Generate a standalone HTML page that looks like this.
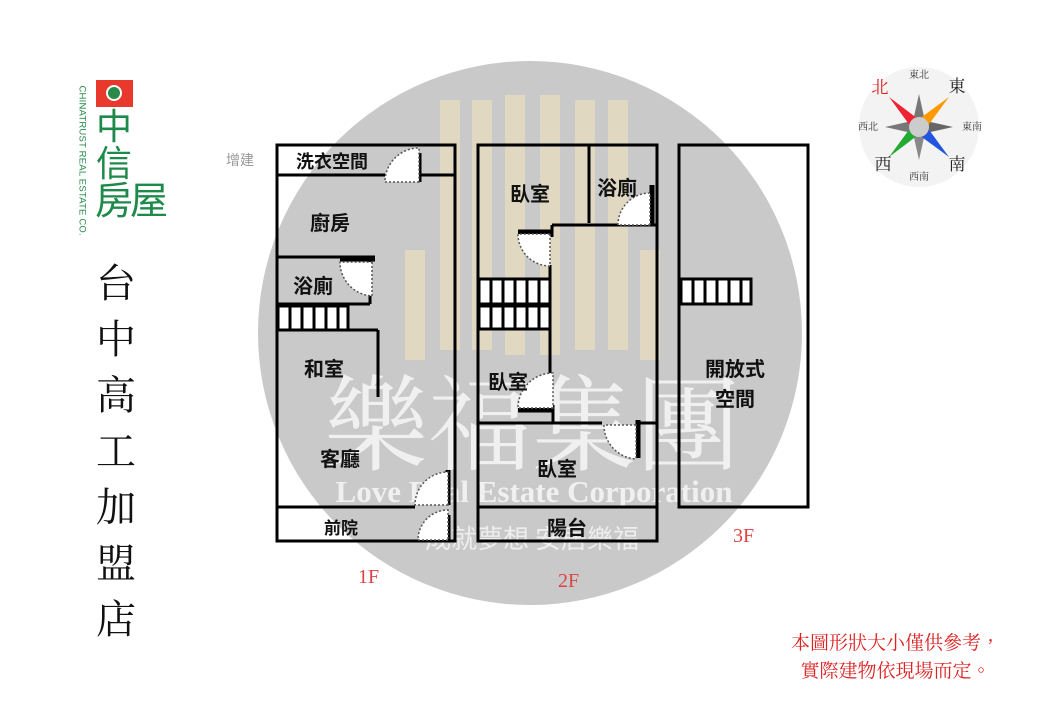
<!DOCTYPE html>
<html><head><meta charset="utf-8"><style>
body{margin:0;width:1040px;height:720px;background:#fff;overflow:hidden;position:relative;font-family:"Liberation Sans","Noto Sans CJK TC",sans-serif}
.t{position:absolute;font-weight:bold;font-size:20px;color:#111;white-space:nowrap}
.v{position:absolute;left:94px;top:256px;font-family:"Liberation Serif","Noto Serif CJK SC",serif;font-size:40px;line-height:56px;width:44px;text-align:center;color:#111}
</style></head><body>
<svg width="1040" height="720" style="position:absolute;left:0;top:0">
<circle cx="530" cy="333" r="272" fill="#c9c9c9"/>
<g fill="#e8dcc0" opacity="0.8">
<rect x="440" y="100" width="20" height="250"/><rect x="472" y="100" width="20" height="250"/>
<rect x="505" y="95" width="20" height="260"/><rect x="540" y="95" width="20" height="260"/>
<rect x="575" y="100" width="20" height="250"/><rect x="608" y="100" width="20" height="250"/>
<rect x="405" y="250" width="20" height="110"/><rect x="640" y="250" width="20" height="110"/>
</g>
<text x="532" y="462" text-anchor="middle" font-family="Noto Serif CJK SC,serif" font-size="104" fill="#f0f0f0">樂福集團</text>
<text x="534" y="502" text-anchor="middle" font-family="Liberation Serif,serif" font-weight="bold" font-size="31" fill="#f0f0f0">Love Real Estate Corporation</text>
<text x="532" y="548" text-anchor="middle" font-family="Noto Sans CJK TC,sans-serif" font-size="26" fill="#eee">成就夢想 安居樂福</text>
<g stroke="#000" stroke-width="3" fill="none">
<rect x="277" y="145" width="178" height="396"/>
<line x1="277" y1="175" x2="385" y2="175"/><line x1="418" y1="175" x2="455" y2="175"/>
<line x1="277" y1="257" x2="375" y2="257"/><line x1="370" y1="257" x2="370" y2="263"/>
<line x1="370" y1="290" x2="370" y2="304"/><line x1="277" y1="304" x2="370" y2="304"/>
<line x1="277" y1="330" x2="378" y2="330"/><line x1="378" y1="330" x2="378" y2="397"/>
<line x1="277" y1="507" x2="415" y2="507"/>
<rect x="478" y="145" width="179" height="396"/>
<line x1="589" y1="145" x2="589" y2="223"/><line x1="552" y1="225" x2="657" y2="225"/>
<line x1="552" y1="225" x2="552" y2="237"/><line x1="550" y1="265" x2="550" y2="380"/>
<line x1="553" y1="405" x2="553" y2="423"/>
<line x1="478" y1="423" x2="602" y2="423"/><line x1="638" y1="423" x2="657" y2="423"/>
<line x1="478" y1="507" x2="657" y2="507"/>
<rect x="679" y="145" width="129" height="362"/>
</g>
<g stroke="#000" stroke-width="5">
<line x1="419" y1="153" x2="419" y2="182"/><line x1="340" y1="259" x2="375" y2="259"/>
<line x1="448" y1="470" x2="448" y2="505"/><line x1="448" y1="515" x2="448" y2="540"/>
<line x1="652" y1="185" x2="652" y2="225"/><line x1="518" y1="232" x2="552" y2="232"/>
<line x1="518" y1="410" x2="553" y2="410"/><line x1="638" y1="420" x2="638" y2="458"/>
</g>
<g fill="#fff" stroke="#555" stroke-width="1.5" stroke-dasharray="2,2">
<path d="M419 182 L385 182 A34 34 0 0 1 419 148Z"/>
<path d="M372 262 L372 296 A34 34 0 0 1 340 262Z"/>
<path d="M448 505 L415 505 A33 33 0 0 1 448 472Z"/>
<path d="M448 540 L418 540 A30 30 0 0 1 448 510Z"/>
<path d="M650 225 L618 225 A32 32 0 0 1 650 193Z"/>
<path d="M550 234 L550 266 A32 32 0 0 1 518 234Z"/>
<path d="M553 408 L518 408 A35 35 0 0 1 553 373Z"/>
<path d="M636 425 L604 425 A34 34 0 0 0 636 459Z"/>
</g>
<g stroke="#000" stroke-width="3" fill="#fff">
<rect x="278" y="306" width="70" height="24"/><rect x="479" y="279" width="71" height="25"/><rect x="479" y="306" width="71" height="23"/><rect x="681" y="279" width="70" height="25"/>
</g>
<g stroke="#000" stroke-width="3">
<path d="M290 306v24M302 306v24M314 306v24M326 306v24M338 306v24"/>
<path d="M491 279v50M503 279v50M515 279v50M527 279v50M539 279v50"/>
<path d="M693 279v25M705 279v25M717 279v25M729 279v25M741 279v25"/>
</g>
<circle cx="919" cy="127" r="60" fill="#f3f3f3"/>
<polygon points="919,94 925,121 919,127 913,121" fill="#777"/>
<polygon points="919,160 925,133 919,127 913,133" fill="#888"/>
<polygon points="885,127 912,121 919,127 912,133" fill="#777"/>
<polygon points="953,127 926,121 919,127 926,133" fill="#666"/>
<polygon points="889,97 922,122 914,131" fill="#e23"/>
<polygon points="949,97 915,122 924,131" fill="#f90"/>
<polygon points="889,157 922,132 914,123" fill="#2a3"/>
<polygon points="949,157 915,132 924,123" fill="#25d"/>
<circle cx="919" cy="127" r="10" fill="#ccc"/>
<g font-family="Noto Serif CJK SC,serif" font-size="10" fill="#333" text-anchor="middle">
<text x="919" y="78">東北</text><text x="868" y="130">西北</text><text x="972" y="130">東南</text><text x="919" y="180">西南</text></g>
<g font-family="Noto Serif CJK SC,serif" font-size="17" text-anchor="middle">
<text x="880" y="93" fill="#d22">北</text><text x="957" y="92" fill="#222">東</text><text x="883" y="170" fill="#222">西</text><text x="957" y="170" fill="#222">南</text></g>
<rect x="96" y="80" width="37" height="27" fill="#e8392c"/>
<circle cx="114" cy="93" r="8" fill="#fff"/><circle cx="114" cy="93" r="6" fill="#2a8a4a"/>
</svg>
<div style="position:absolute;left:72px;top:150px;transform:rotate(90deg);transform-origin:center;width:140px;margin-left:-60px;font-size:9.5px;color:#2a8a4a;white-space:nowrap;letter-spacing:0.2px">CHINATRUST REAL ESTATE CO.</div>
<div style="position:absolute;left:96px;top:108px;font-size:36px;line-height:38px;color:#1e8a4a">中</div>
<div style="position:absolute;left:96px;top:145px;font-size:36px;line-height:38px;color:#1e8a4a">信</div>
<div style="position:absolute;left:95px;top:183px;font-size:38px;line-height:38px;color:#1e8a4a;letter-spacing:-3px">房屋</div>
<div style="position:absolute;left:226px;top:150px;font-size:14px;color:#999">增建</div>
<div class="v">台<br>中<br>高<br>工<br>加<br>盟<br>店</div>
<div class="t" style="left:296px;top:148px;font-size:18px">洗衣空間</div>
<div class="t" style="left:310px;top:207px">廚房</div>
<div class="t" style="left:293px;top:270px">浴廁</div>
<div class="t" style="left:304px;top:353px">和室</div>
<div class="t" style="left:320px;top:443px">客廳</div>
<div class="t" style="left:324px;top:514px;font-size:17px">前院</div>
<div class="t" style="left:510px;top:178px">臥室</div>
<div class="t" style="left:597px;top:172px">浴廁</div>
<div class="t" style="left:488px;top:366px">臥室</div>
<div class="t" style="left:537px;top:453px">臥室</div>
<div class="t" style="left:547px;top:512px">陽台</div>
<div class="t" style="left:705px;top:355px;text-align:center;line-height:30px">開放式<br>空間</div>
<div style="position:absolute;left:358px;top:566px;font-family:'Liberation Serif',serif;font-size:20px;color:#d44">1F</div>
<div style="position:absolute;left:558px;top:570px;font-family:'Liberation Serif',serif;font-size:20px;color:#d44">2F</div>
<div style="position:absolute;left:733px;top:525px;font-family:'Liberation Serif',serif;font-size:20px;color:#d44">3F</div>
<div style="position:absolute;top:630px;font-family:'Liberation Serif','Noto Serif CJK TC',serif;font-size:19px;line-height:28px;color:#d22;text-align:right;width:300px;left:700px">本圖形狀大小僅供參考，<br>實際建物依現場而定。&nbsp;&nbsp;</div>
</body></html>
